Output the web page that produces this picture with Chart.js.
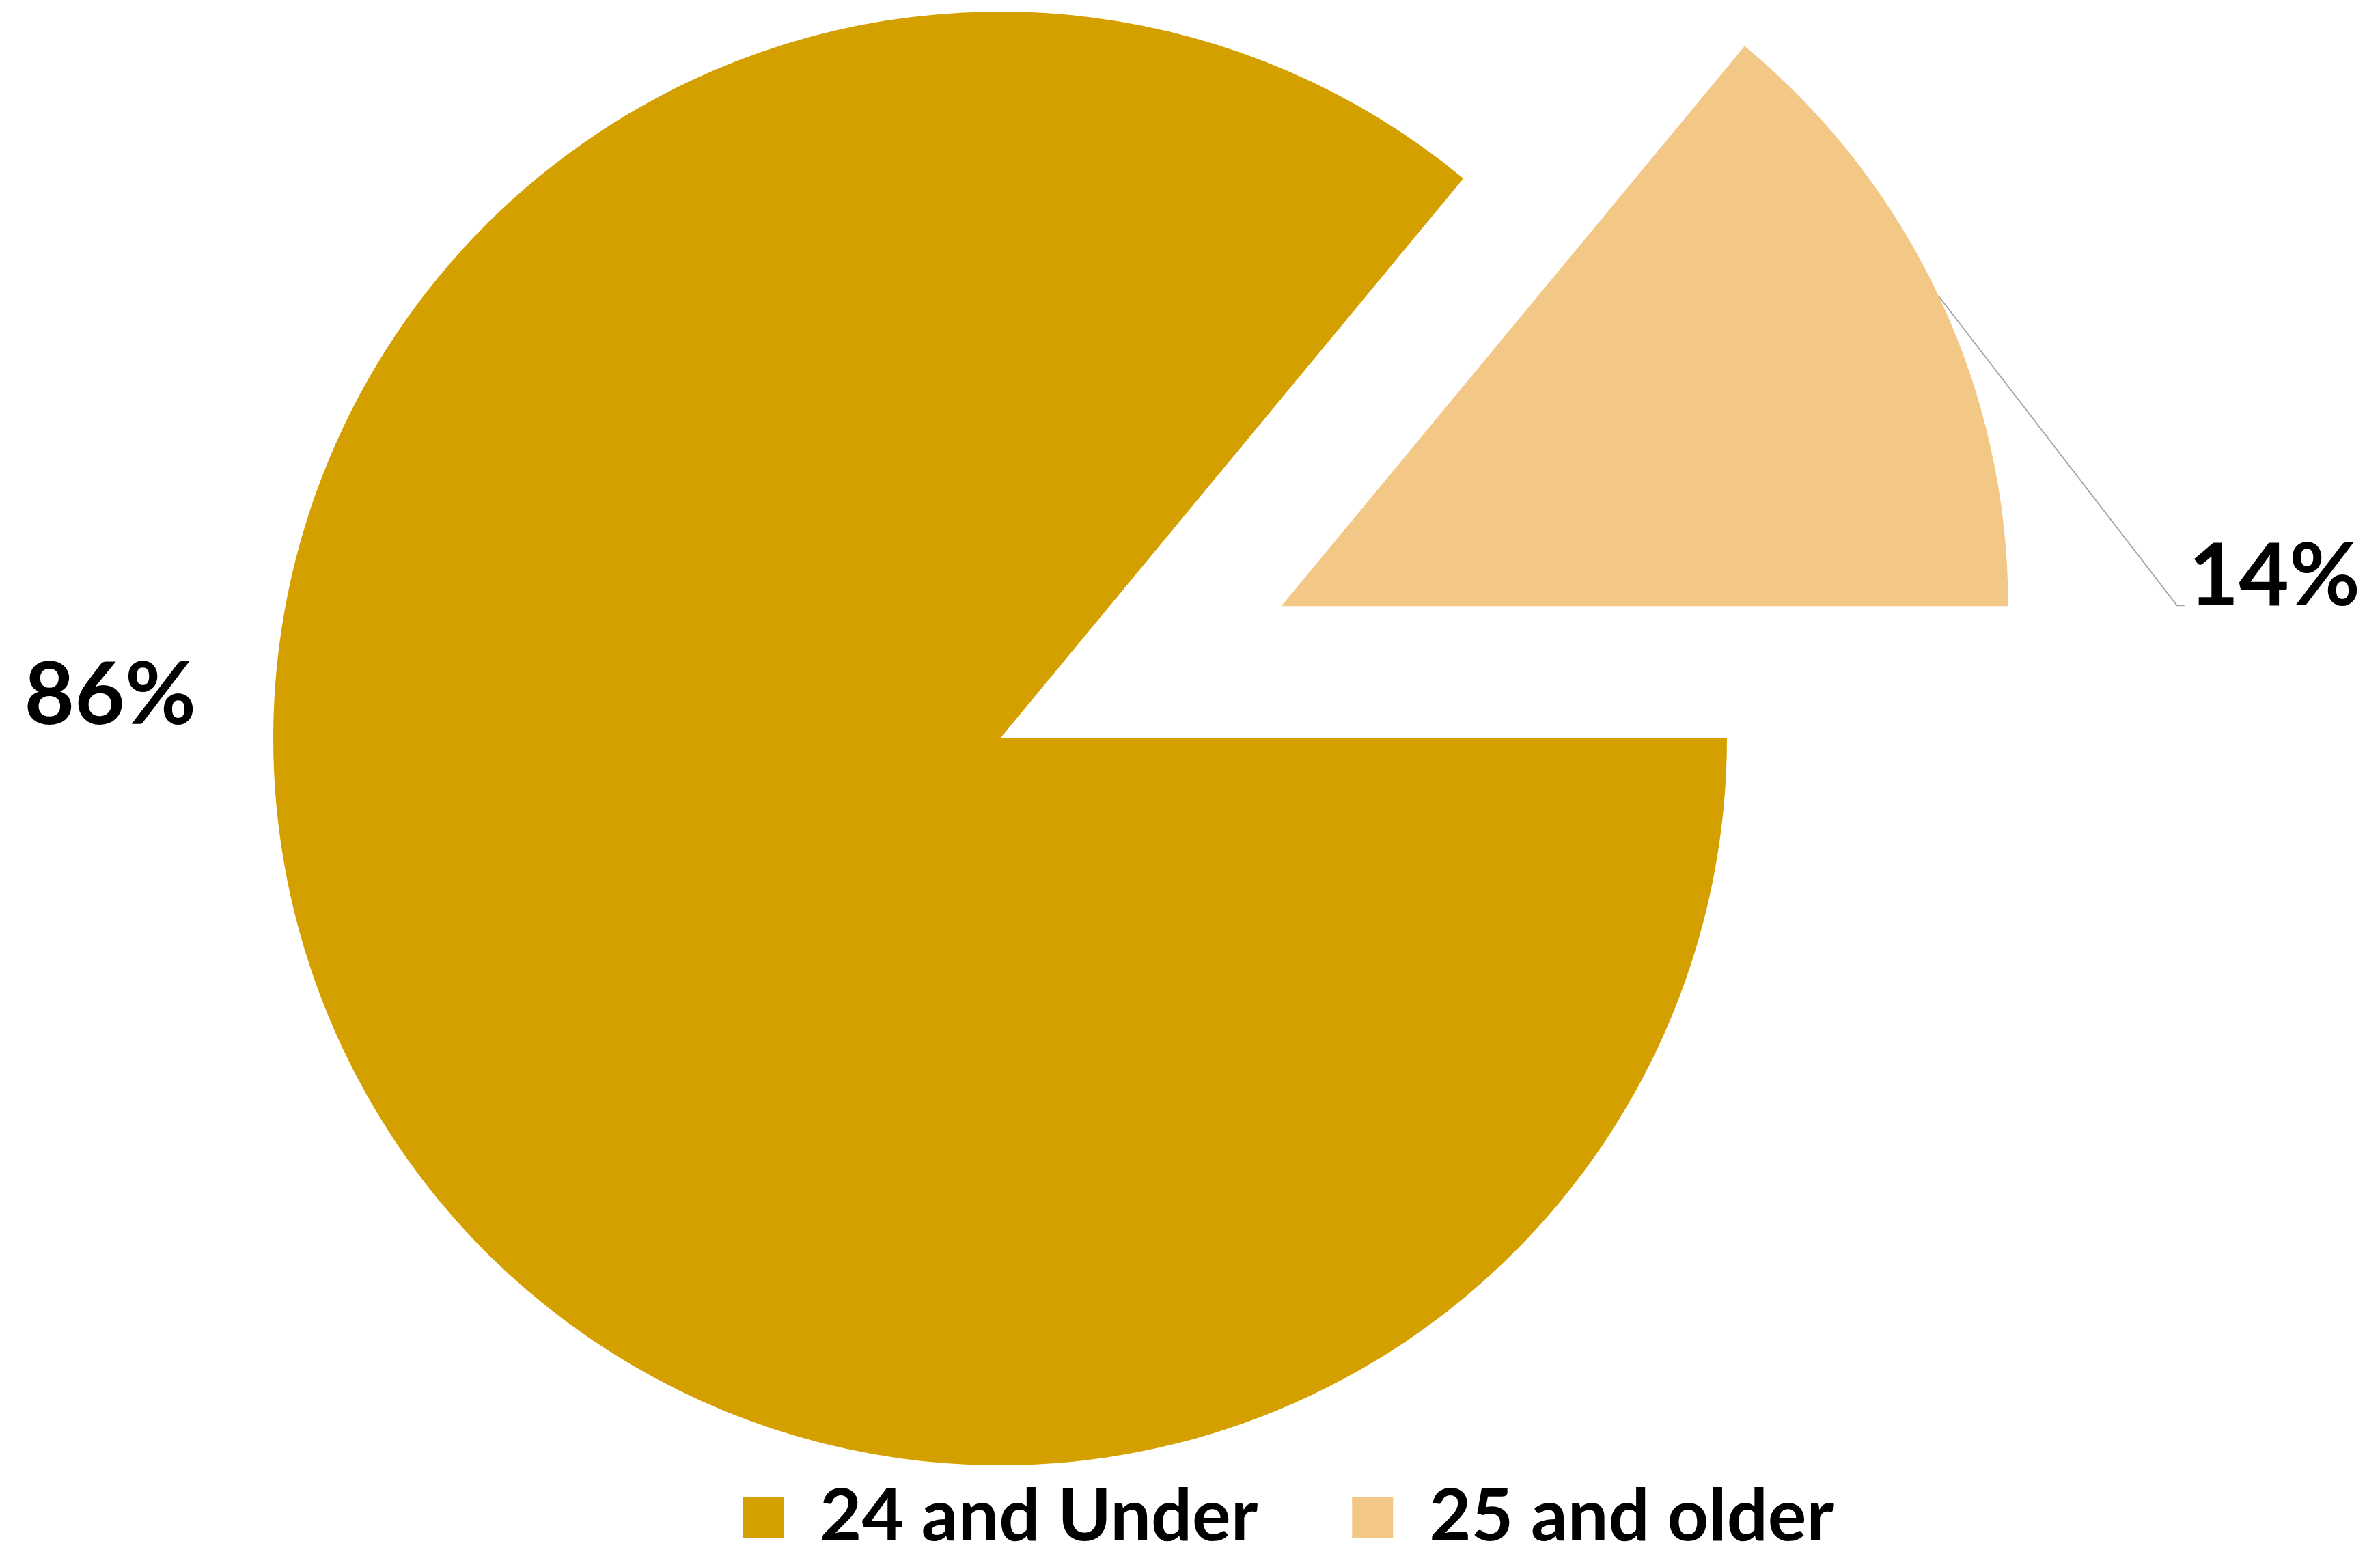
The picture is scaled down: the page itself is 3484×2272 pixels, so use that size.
<!DOCTYPE html>
<html>
<head>
<meta charset="utf-8">
<title>Age split</title>
<script src="https://cdn.jsdelivr.net/npm/chart.js@4.4.1/dist/chart.umd.min.js"></script>
<style>
    html, body { margin: 0; padding: 0; background: #fff; }
    #wrap { width: 3484px; height: 2272px; }
</style>
</head>
<body>
<div id="wrap"><canvas id="grafico" width="3484" height="2272"></canvas></div>
<script>
const categorias = ['24 and Under', '25 and older'];
const percentuais = [86, 14];
const cores = ['#D4A000', '#F3C886'];

// pulls one slice out along its bisector, same radius as the rest
const explodePlugin = {
    id: 'explode',
    afterUpdate: function(chart, args, opts) {
        const arc = chart.getDatasetMeta(0).data[opts.index];
        if (!arc) return;
        const meio = (arc.startAngle + arc.endAngle) / 2;
        arc.x += Math.cos(meio) * opts.distance;
        arc.y += Math.sin(meio) * opts.distance;
    }
};

const rotulosPlugin = {
    id: 'rotulos',
    afterDatasetsDraw: function(chart) {
        const ctx = chart.ctx;
        const arcs = chart.getDatasetMeta(0).data;
        const grande = arcs[0];
        const pequeno = arcs[1];

        ctx.save();
        ctx.font = 'bold 127px Lato';
        ctx.fillStyle = '#000';
        ctx.textBaseline = 'alphabetic';

        // 86% at the left of the pie
        ctx.textAlign = 'right';
        ctx.fillText(percentuais[0] + '%', grande.x - grande.outerRadius - 113, grande.y - 21);

        // leader line for the exploded slice
        const meio = (pequeno.startAngle + pequeno.endAngle) / 2;
        const r = pequeno.outerRadius;
        const x0 = pequeno.x + Math.cos(meio) * r;
        const y0 = pequeno.y + Math.sin(meio) * r;
        const cotoveloX = pequeno.x + r + 247;
        const cotoveloY = pequeno.y - 1;
        ctx.strokeStyle = '#A6A6A6';
        ctx.lineWidth = 2;
        ctx.beginPath();
        ctx.moveTo(x0, y0);
        ctx.lineTo(cotoveloX, cotoveloY);
        ctx.lineTo(cotoveloX + 11, cotoveloY);
        ctx.stroke();

        ctx.textAlign = 'left';
        ctx.fillText(percentuais[1] + '%', cotoveloX + 17, cotoveloY);
        ctx.restore();
    }
};

function desenhar() {
    new Chart(document.getElementById('grafico'), {
        type: 'pie',
        data: {
            labels: categorias,
            datasets: [{
                data: percentuais,
                backgroundColor: cores,
                borderWidth: 0,
                hoverOffset: 0,
                clip: false
            }]
        },
        options: {
            responsive: false,
            animation: false,
            events: [],
            devicePixelRatio: 1,
            rotation: 90,
            radius: 1064,
            layout: {
                padding: { left: 106, right: 662, top: 132, bottom: -12 }
            },
            plugins: {
                tooltip: { enabled: false },
                explode: { index: 1, distance: 455 },
                legend: {
                    position: 'bottom',
                    align: 'end',
                    labels: {
                        boxWidth: 60,
                        boxHeight: 60,
                        padding: 138,
                        color: '#000',
                        font: { family: 'Lato', weight: 'bold', size: 106 }
                    }
                }
            }
        },
        plugins: [explodePlugin, rotulosPlugin]
    });
}

document.fonts.load('bold 106px Lato').then(desenhar, desenhar);
</script>
</body>
</html>
